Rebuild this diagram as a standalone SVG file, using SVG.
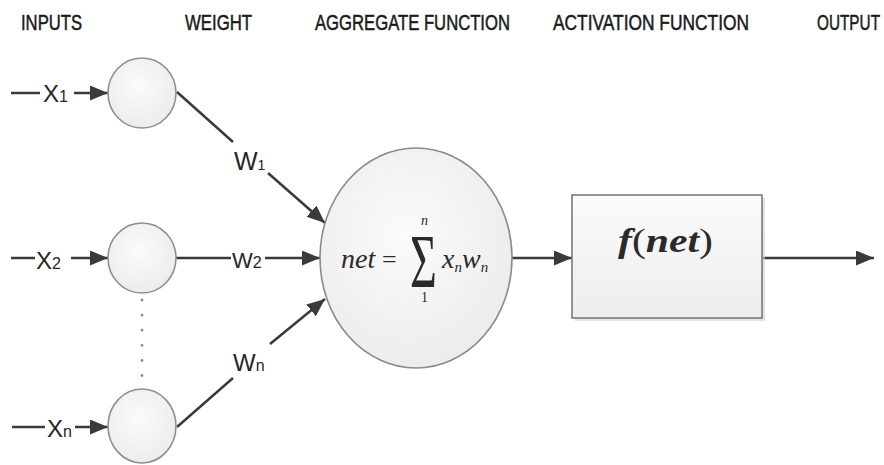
<svg xmlns="http://www.w3.org/2000/svg" width="884" height="465" viewBox="0 0 884 465">
<defs>
<marker id="ah" markerUnits="userSpaceOnUse" markerWidth="20" markerHeight="16" refX="18" refY="7.5" orient="auto">
<path d="M0,0 L18,7.5 L0,15 z" fill="#3a3a3a"/>
</marker>
<radialGradient id="cg" cx="0.45" cy="0.4" r="0.65">
<stop offset="0" stop-color="#fbfbfb"/>
<stop offset="1" stop-color="#ebebeb"/>
</radialGradient>
<linearGradient id="bg" x1="0" y1="0" x2="0" y2="1">
<stop offset="0" stop-color="#fbfbfb"/>
<stop offset="1" stop-color="#ededed"/>
</linearGradient>
</defs>
<style>
.hd{font-family:"Liberation Sans",Arial,sans-serif;font-size:22px;fill:#1a1a1a;stroke:#1a1a1a;stroke-width:0.5}
.lb{font-family:"Liberation Sans",Arial,sans-serif;fill:#262626}
.ln{stroke:#3a3a3a;stroke-width:2.5;fill:none}
.in{fill:url(#cg);stroke:#8f8f8f;stroke-width:1.6}
.mt{font-family:"Liberation Serif","Times New Roman",serif;fill:#2a2a2a}
</style>
<rect width="884" height="465" fill="#ffffff"/>
<g id="headers">
<text class="hd" x="21" y="30" textLength="61" lengthAdjust="spacingAndGlyphs">INPUTS</text>
<text class="hd" x="185" y="30" textLength="67" lengthAdjust="spacingAndGlyphs">WEIGHT</text>
<text class="hd" x="315" y="30" textLength="195" lengthAdjust="spacingAndGlyphs">AGGREGATE FUNCTION</text>
<text class="hd" x="553" y="30" textLength="196" lengthAdjust="spacingAndGlyphs">ACTIVATION FUNCTION</text>
<text class="hd" x="817" y="30" textLength="63" lengthAdjust="spacingAndGlyphs">OUTPUT</text>
</g>
<g id="connectors">
<line class="ln" x1="11" y1="93" x2="40" y2="93"/>
<line class="ln" x1="74" y1="93" x2="108" y2="93" marker-end="url(#ah)"/>
<line class="ln" x1="11" y1="258" x2="35" y2="258"/>
<line class="ln" x1="71" y1="258" x2="108" y2="258" marker-end="url(#ah)"/>
<line class="ln" x1="12" y1="427" x2="45" y2="427"/>
<line class="ln" x1="75" y1="427" x2="108" y2="427" marker-end="url(#ah)"/>
<line class="ln" x1="177" y1="92" x2="233" y2="142"/>
<line class="ln" x1="268" y1="173" x2="325" y2="223" marker-end="url(#ah)"/>
<line class="ln" x1="176" y1="258" x2="231" y2="258"/>
<line class="ln" x1="265" y1="258" x2="320" y2="258" marker-end="url(#ah)"/>
<line class="ln" x1="177" y1="427" x2="233" y2="378"/>
<line class="ln" x1="270" y1="344" x2="325" y2="299" marker-end="url(#ah)"/>
<line class="ln" x1="512" y1="258" x2="572" y2="258" marker-end="url(#ah)"/>
<line class="ln" x1="762" y1="258" x2="874" y2="258" marker-end="url(#ah)"/>
<line x1="142" y1="300" x2="142" y2="380" stroke="#8a8a8a" stroke-width="2.8" stroke-linecap="round" stroke-dasharray="0.1 15"/>
</g>
<g id="labels">
<text class="lb" x="43" y="102" font-size="24">X<tspan font-size="16">1</tspan></text>
<text class="lb" x="36" y="269" font-size="24">X<tspan font-size="16">2</tspan></text>
<text class="lb" x="47" y="437" font-size="24">X<tspan font-size="16">n</tspan></text>
<text class="lb" x="234" y="170" font-size="25">W<tspan font-size="14">1</tspan></text>
<text class="lb" x="232" y="268" font-size="22">W<tspan font-size="16">2</tspan></text>
<text class="lb" x="233" y="371" font-size="24">W<tspan font-size="16">n</tspan></text>
</g>
<g id="input1"><ellipse class="in" cx="142" cy="93" rx="34" ry="35"/></g>
<g id="input2"><ellipse class="in" cx="142" cy="258" rx="34" ry="35"/></g>
<g id="inputn"><ellipse class="in" cx="142" cy="426" rx="34" ry="37"/></g>
<g id="aggregate">
<ellipse cx="416" cy="258" rx="96" ry="110" fill="url(#cg)" stroke="#8a8a8a" stroke-width="1.6"/>
<text class="mt" x="341" y="268" font-size="28" font-style="italic">net</text>
<text class="mt" x="382" y="268" font-size="26">=</text>
<text class="mt" font-size="46" transform="translate(410,287) scale(1,1.65)">Σ</text>
<text class="mt" x="421" y="225" font-size="14" font-style="italic">n</text>
<text class="mt" x="421" y="302" font-size="14">1</text>
<text class="mt" x="442" y="268" font-size="28" font-style="italic">x<tspan font-size="15" dy="4">n</tspan><tspan dy="-4">w</tspan><tspan font-size="15" dy="4">n</tspan></text>
</g>
<g id="activation">
<rect x="575" y="198" width="190" height="123" fill="#cfcfcf" opacity="0.6"/>
<rect x="572" y="195" width="190" height="123" fill="url(#bg)" stroke="#7a7a7a" stroke-width="1.6"/>
<text class="mt" x="618" y="252" font-size="33" textLength="95" lengthAdjust="spacingAndGlyphs"><tspan font-weight="bold" font-style="italic">f</tspan>(<tspan font-weight="bold" font-style="italic">net</tspan>)</text>
</g>
</svg>
